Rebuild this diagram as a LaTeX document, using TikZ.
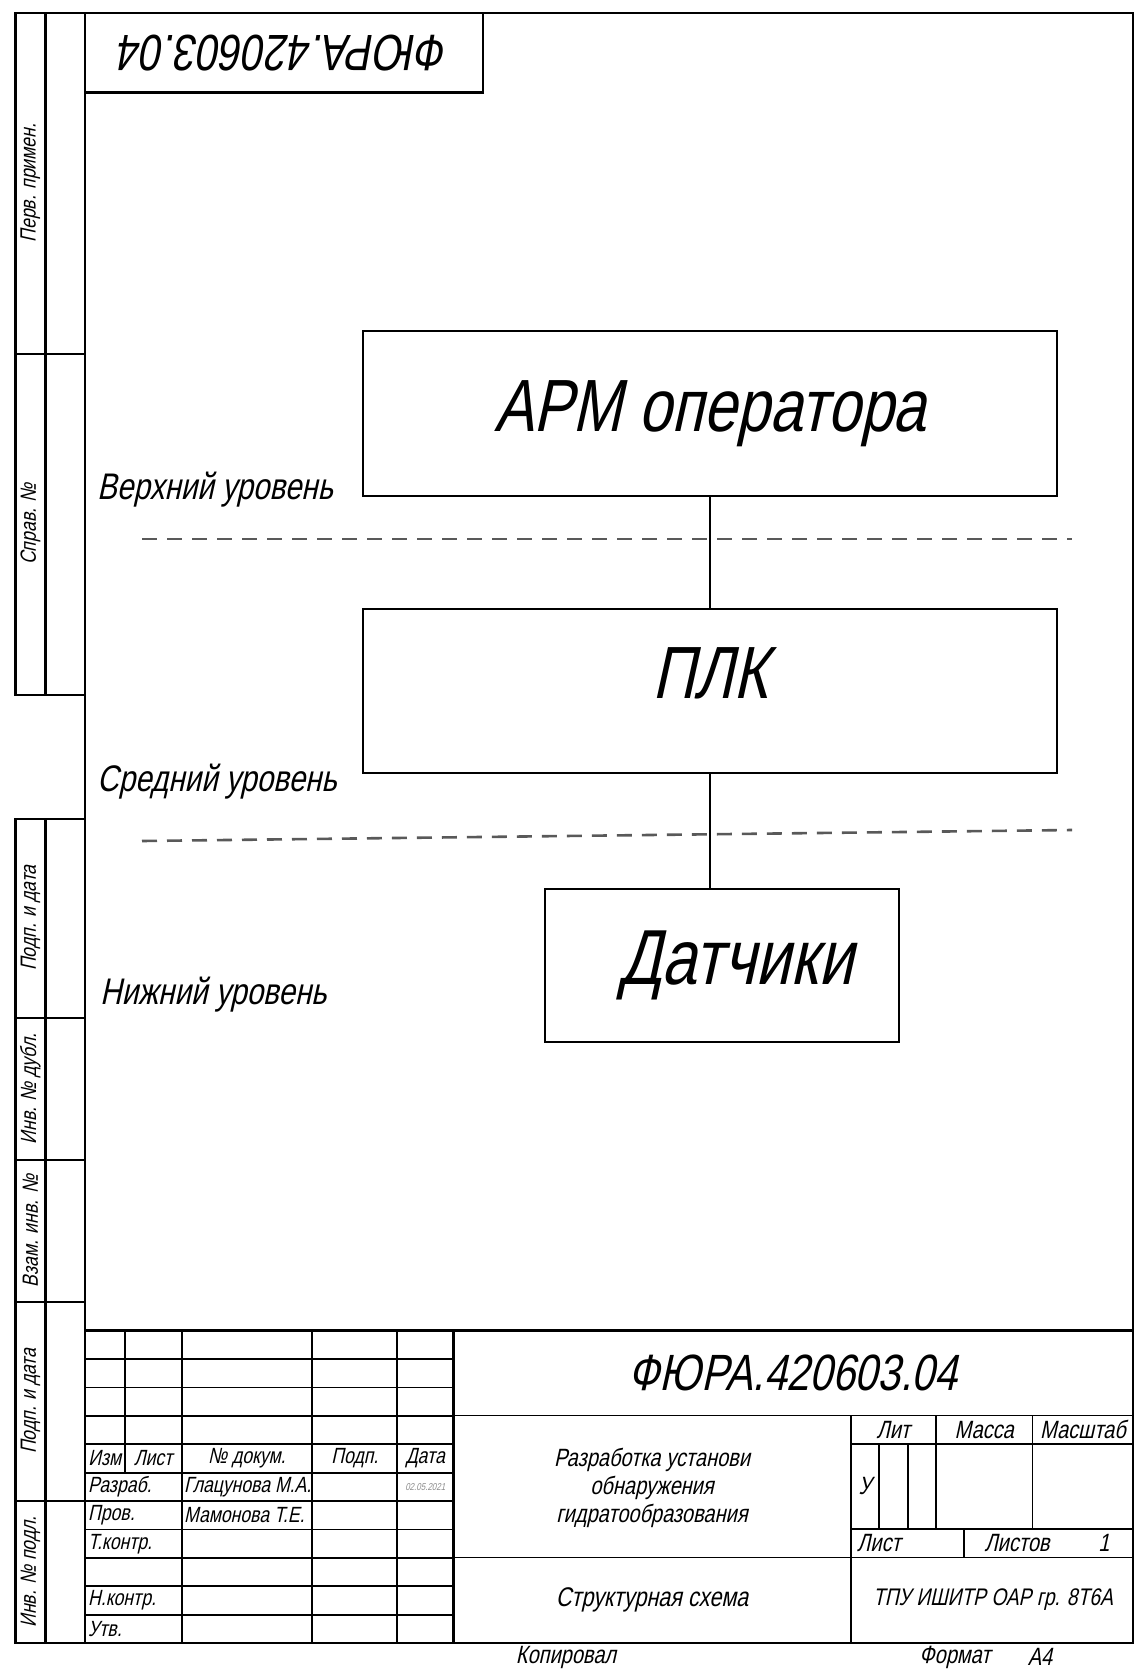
\documentclass[tikz,border=0pt]{standalone}
\usepackage{fontspec}
\newfontfamily\gost[FakeStretch=0.8,FakeSlant=0.22]{Liberation Sans}
\newfontfamily\gostplain[FakeSlant=0.22]{Liberation Sans}

\begin{document}
\begin{tikzpicture}[
    x=1pt, y=-1pt,
    every node/.style={font=\gost, inner sep=0pt},
    frame/.style={line width=2.6pt},
    cell/.style={line width=1.9pt},
    block/.style={draw, line width=2.4pt, font=\gost\fontsize{74}{80}\selectfont},
    link/.style={line width=2pt},
    levelline/.style={line width=2.6pt, black!65, dash pattern=on 15pt off 10pt},
    levellabel/.style={anchor=west, font=\gost\fontsize{37}{40}\selectfont},
    small/.style={font=\gost\fontsize{22}{24}\selectfont},
    mid/.style={font=\gost\fontsize{25}{28}\selectfont},
    code/.style={font=\gost\fontsize{51}{56}\selectfont},
]

% === Page and frame dimensions (pixels) ===
\def\fL{85}       % inner frame left
\def\fR{1133}     % inner frame right
\def\fT{13}       % frame top
\def\fB{1643}     % frame bottom
\def\sL{15.5}     % side strip outer edge
\def\sM{45.2}     % side strip divider
\def\rowH{28.4}   % title block row (5 mm)
\def\tbT{1330.7}  % title block top

\useasboundingbox (0,0) rectangle (1135,1669);

% === Frame ===
\draw[frame] (\fL,\fT) rectangle (\fR,\fB);
% Top stamp (upside down)
\draw[frame] (\fL,\fT) rectangle (483,92.5);
\node[font=\gostplain\fontsize{51}{56}\selectfont, rotate=180, xscale=0.8] (stamp) at (284,53) {ФЮРА.420603.04};

% === Side strip (upper) ===
\draw[frame] (\sL,\fT) rectangle (\fL,695);
\draw[frame] (\sM,\fT) -- (\sM,695);
\draw[frame] (\sL,354) -- (\fL,354);
\node[small, rotate=90] (perv) at (30.4,183) {Перв. примен.};
\node[small, rotate=90] (sprav) at (30.4,524) {Справ. №};

% === Side strip (lower) ===
\draw[frame] (\sL,819) rectangle (\fL,\fB);
\draw[frame] (\sM,819) -- (\sM,\fB);
\foreach \yy in {1018, 1160, 1302, 1501} {
    \draw[frame] (\sL,\yy) -- (\fL,\yy);
}
\node[small, rotate=90] (podp1) at (30.4,918) {Подп. и дата};
\node[small, rotate=90] (dubl) at (30.4,1089) {Инв. № дубл.};
\node[small, rotate=90] (vzam) at (30.4,1231) {Взам. инв. №};
\node[small, rotate=90] (podp2) at (30.4,1401) {Подп. и дата};
\node[small, rotate=90] (podl) at (30.4,1572) {Инв. № подл.};

% === Structure blocks ===
\node[block, minimum width=694pt, minimum height=165pt] (arm) at (710,413.5) {АРМ оператора};
\node[block, minimum width=694pt, minimum height=164pt, text depth=36pt] (plk) at (710,691) {ПЛК};
\node[block, minimum width=354pt, minimum height=153pt, font=\gost\fontsize{78}{84}\selectfont] (sens) at (722,965.5) {\hspace*{28pt}Датчики};

\draw[link] (arm.south) -- (plk.north);
\draw[link] (plk.south) -- (plk.south |- sens.north);

% === Levels ===
\draw[levelline] (142,539) -- (1072,539);
\draw[levelline] (142,841) -- (1072,830);
\node[levellabel] (top) at (97,490) {Верхний уровень};
\node[levellabel] (middle) at (97,782) {Средний уровень};
\node[levellabel] (bottom) at (100,995) {Нижний уровень};

% === Title block (left part) ===
\draw[frame] (\fL,\tbT) -- (\fR,\tbT);
\foreach \r in {1,...,10} {
    \draw[cell] (\fL,{\tbT+\r*\rowH}) -- (453.3,{\tbT+\r*\rowH});
}
\draw[cell] (124.8,\tbT) -- (124.8,{\tbT+5*\rowH});
\foreach \xx in {181.6, 312.2, 397.4} {
    \draw[cell] (\xx,\tbT) -- (\xx,\fB);
}
\draw[frame] (453.3,\tbT) -- (453.3,\fB);

\node[small] (izm) at (104.9,1458.5) {Изм};
\node[small] (list) at (153.2,1458.5) {Лист};
\node[small] (ndoc) at (246.9,1458.5) {№ докум.};
\node[small] (podp) at (354.8,1458.5) {Подп.};
\node[small] (data) at (425.3,1458.5) {Дата};
\node[small, anchor=west] (razr) at (88,1486.9) {Разраб.};
\node[small, anchor=west] (prov) at (88,1515.3) {Пров.};
\node[small, anchor=west] (tkontr) at (88,1543.7) {Т.контр.};
\node[small, anchor=west] (nkontr) at (88,1600.5) {Н.контр.};
\node[small, anchor=west] (utv) at (88,1628.9) {Утв.};
\node[small, anchor=west] (author) at (184,1486.9) {Глацунова М.А.};
\node[small, anchor=west] (checker) at (184,1515.3) {Мамонова Т.Е.};
\node[font=\gost\fontsize{10}{11}\selectfont, black!45] (date) at (425.3,1486.9) {02.05.2021};

% === Title block (right part) ===
\node[code] (code) at (793,1373) {ФЮРА.420603.04};
\draw[cell] (453.3,1415.5) -- (\fR,1415.5);
\draw[frame] (850.8,1415.5) -- (850.8,\fB);
\draw[cell] (850.8,1444) -- (\fR,1444);
\draw[cell] (850.8,1529) -- (\fR,1529);
\draw[cell] (453.3,1557.5) -- (\fR,1557.5);
\foreach \xx in {879.2, 907.6} {
    \draw[cell] (\xx,1444) -- (\xx,1529);
}
\foreach \xx in {936, 1032.5} {
    \draw[cell] (\xx,1415.5) -- (\xx,1529);
}
\draw[cell] (964.4,1529) -- (964.4,1557.5);

\node[mid, align=center] (name) at (652,1488) {Разработка установи\\обнаружения\\гидратообразования};
\node[mid] (lit) at (893.4,1429.7) {Лит};
\node[mid] (mass) at (984.3,1429.7) {Масса};
\node[mid] (scale) at (1083,1429.7) {Масштаб};
\node[mid] (letter) at (865,1486) {У};
\node[mid, anchor=west] (sheet) at (857,1543.3) {Лист};
\node[mid] (sheets) at (1017,1543.3) {Листов};
\node[mid] (nsheets) at (1104,1543.3) {1};
\node[font=\gost\fontsize{27}{30}\selectfont] (kind) at (652,1600) {Структурная схема};
\node[font=\gost\fontsize{24}{27}\selectfont] (org) at (993,1600) {ТПУ ИШИТР ОАР гр. 8Т6А};

% === Below the frame ===
\node[mid] (copied) at (566,1657) {Копировал};
\node[mid] (format) at (955,1657) {Формат};
\node[mid] (a4) at (1040,1657) {А4};

\end{tikzpicture}
\end{document}
